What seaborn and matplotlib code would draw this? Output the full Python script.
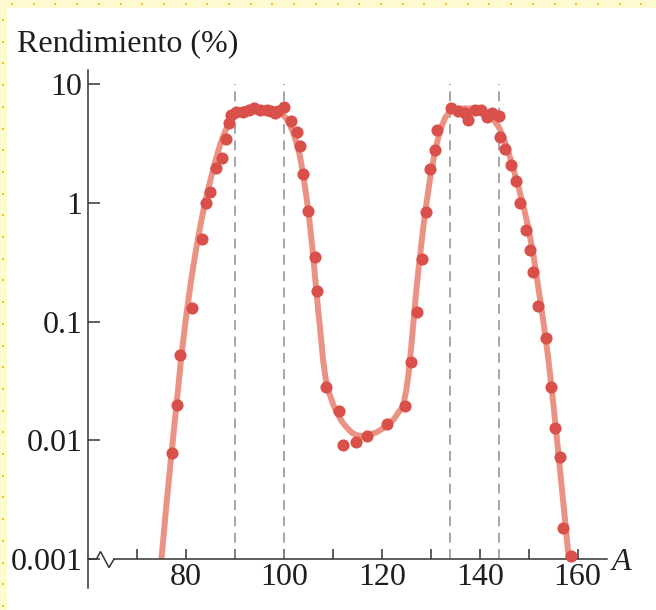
import numpy as np
import pandas as pd
import matplotlib
matplotlib.use("Agg")
import matplotlib.pyplot as plt
import matplotlib.ticker as mticker
from matplotlib.patches import Rectangle
from matplotlib.lines import Line2D
import seaborn as sns

# ---------------- data ----------------
point_A = [77.1, 78.2, 78.8, 81.2, 83.2, 84.2, 85.0, 86.1, 87.4, 88.2, 88.8, 89.3,
           90.2, 91.7, 92.8, 93.9, 95.1, 96.5, 97.4, 98.2, 98.8, 100.0,
           101.4, 102.6, 103.4, 103.9, 105.0, 106.3, 106.8, 108.6, 111.3, 112.1,
           114.8, 116.9, 121.1, 124.7, 125.9, 127.1, 128.2, 129.1, 129.8, 130.8,
           131.3, 134.2, 135.6, 136.9, 137.6, 139.0, 140.3, 141.4, 142.6, 143.9,
           144.2, 145.2, 146.3, 147.5, 148.2, 149.5, 150.2, 150.9, 152.0, 153.5,
           154.6, 155.4, 156.3, 157.1, 158.7]
point_yield = [0.0078, 0.020, 0.052, 0.13, 0.50, 1.0, 1.24, 1.95, 2.4, 3.45, 4.66, 5.5,
               5.85, 5.85, 6.0, 6.3, 6.1, 6.0, 5.9, 5.66, 5.9, 6.45,
               4.87, 3.96, 3.0, 1.75, 0.86, 0.35, 0.18, 0.028, 0.0176, 0.0092,
               0.0097, 0.0109, 0.0136, 0.0195, 0.046, 0.12, 0.336, 0.83, 1.92, 2.78,
               4.1, 6.3, 5.96, 5.74, 4.98, 6.1, 6.0, 5.25, 5.66, 5.37,
               3.6, 2.82, 2.1, 1.53, 1.0, 0.59, 0.40, 0.26, 0.135, 0.072,
               0.028, 0.0128, 0.0072, 0.00184, 0.00106]

curve_A = [75.0, 76.0, 77.0, 78.0, 79.0, 80.0, 81.0, 82.0, 83.0, 84.0, 85.0, 86.0,
           87.0, 88.0, 89.0, 90.0, 91.0, 93.0, 95.0, 97.0, 99.0, 100.0, 101.0,
           102.0, 103.0, 104.0, 105.0, 105.5, 106.0, 106.5, 107.0, 107.5, 108.0,
           108.5, 109.0, 109.5, 110.0, 110.5, 111.0, 112.0, 113.0, 114.0, 115.0,
           116.0, 117.0, 119.0, 121.0, 122.5, 123.5, 124.0, 124.5, 125.0, 125.5,
           126.0, 126.5, 127.0, 127.5, 128.0, 128.5, 129.0, 130.0, 131.0, 132.0,
           133.0, 134.0, 135.5, 137.0, 139.0, 141.0, 142.5, 144.0, 145.0, 146.0,
           147.0, 148.0, 149.0, 150.0, 151.0, 152.0, 153.0, 154.0, 155.0, 156.0,
           157.0, 158.2]
curve_yield = [0.00100, 0.00282, 0.00741, 0.0186, 0.0479, 0.107, 0.214, 0.389, 0.661, 1.05,
               1.55, 2.24, 3.09, 3.98, 4.90, 5.62, 6.03, 6.24, 6.17, 6.03, 5.75,
               5.43, 4.79, 3.80, 2.82, 1.70, 0.851, 0.562, 0.355, 0.209, 0.126,
               0.0794, 0.0479, 0.0339, 0.0269, 0.0234, 0.0204, 0.0182, 0.0166,
               0.0141, 0.0126, 0.0115, 0.0110, 0.0108, 0.0110, 0.0117, 0.0132,
               0.0151, 0.0174, 0.0182, 0.0209, 0.0263, 0.0372, 0.0603, 0.102, 0.174,
               0.275, 0.417, 0.631, 0.912, 1.74, 2.88, 4.17, 5.25, 5.89, 6.17,
               6.24, 6.2, 5.9, 5.25, 4.27, 3.39, 2.57, 1.86, 1.32, 0.91, 0.60,
               0.355, 0.19, 0.10, 0.049, 0.021, 0.0083, 0.0032, 0.00100]

dashed_A = [90, 100, 134, 144]
x_ticks = [70, 80, 90, 100, 110, 120, 130, 140, 150, 160]
x_ticklabels = ["", "80", "", "100", "", "120", "", "140", "", "160"]
y_ticks = [0.001, 0.01, 0.1, 1, 10]
y_ticklabels = ["0.001", "0.01", "0.1", "1", "10"]

# ---------------- style ----------------
sns.set_style("ticks")
plt.rcParams["font.family"] = ["Liberation Serif", "DejaVu Serif"]

W, H = 656, 610
fig = plt.figure(figsize=(W / 100, H / 100), dpi=100)
fig.patch.set_facecolor("white")

# yellow dotted frame strips
fig.patches.append(Rectangle((0, 1 - 8 / H), 1, 8 / H, transform=fig.transFigure,
                             facecolor="#FFFBD0", edgecolor="none", zorder=0))
fig.patches.append(Rectangle((0, 0), 7 / W, 1, transform=fig.transFigure,
                             facecolor="#FFFBD0", edgecolor="none", zorder=0))
dot_x = np.arange(12, W, 21.7)
fig.lines.append(Line2D(dot_x / W, np.full(len(dot_x), 1 - 4 / H), transform=fig.transFigure,
                        linestyle="none", marker="s", markersize=1.6, color="#F2C21B",
                        markeredgewidth=0))
dot_y = np.arange(20, H, 21.7)
fig.lines.append(Line2D(np.full(len(dot_y), 2.5 / W), 1 - dot_y / H, transform=fig.transFigure,
                        linestyle="none", marker="s", markersize=1.6, color="#F2C21B",
                        markeredgewidth=0))

ax_left, ax_right, ax_top, ax_bottom = 88, 607, 70, 588
ax = fig.add_axes([ax_left / W, 1 - ax_bottom / H, (ax_right - ax_left) / W,
                   (ax_bottom - ax_top) / H])
ax.set_facecolor("white")
ax.set_yscale("log")

curve_df = pd.DataFrame({"A": curve_A, "Rendimiento": curve_yield})
pts_df = pd.DataFrame({"A": point_A, "Rendimiento": point_yield})

ax.vlines(dashed_A, 0.001, 10, colors="#8e8e8e", linewidth=1.1,
          linestyles=[(0, (6.5, 4.2))], zorder=1)
sns.lineplot(data=curve_df, x="A", y="Rendimiento", ax=ax, color="#EC9284",
             linewidth=4.3, sort=False, zorder=2, solid_capstyle="butt",
             solid_joinstyle="round")
sns.scatterplot(data=pts_df, x="A", y="Rendimiento", ax=ax, color="#D94F49",
                s=76, linewidth=0, zorder=3)

ax.set_xlim(60, 166)
ax.set_ylim(10 ** -3.244, 10 ** 1.118)

ax.xaxis.set_major_locator(mticker.FixedLocator(x_ticks))
ax.xaxis.set_major_formatter(mticker.FixedFormatter(x_ticklabels))
ax.yaxis.set_major_locator(mticker.FixedLocator(y_ticks))
ax.yaxis.set_major_formatter(mticker.FixedFormatter(y_ticklabels))
ax.xaxis.set_minor_locator(mticker.NullLocator())
ax.yaxis.set_minor_locator(mticker.NullLocator())

spine_col = "#333333"
for s in ["top", "right"]:
    ax.spines[s].set_visible(False)
ax.spines["left"].set_color(spine_col)
ax.spines["left"].set_linewidth(1.1)
ax.spines["bottom"].set_color(spine_col)
ax.spines["bottom"].set_linewidth(1.1)
ax.spines["bottom"].set_position(("data", 0.001))
ax.spines["bottom"].set_bounds(65.3, 166)

ax.tick_params(axis="x", direction="in", length=7.5, width=1.1, color=spine_col,
               labelsize=23, pad=3, labelcolor="#1e1e1e")
ax.tick_params(axis="y", direction="in", length=8.5, width=1.1, color=spine_col,
               labelsize=23, pad=4, labelcolor="#1e1e1e")
ax.set_xlabel("")
ax.set_ylabel("")

# axis-break zigzag at the left end of the x axis (pixel offsets from origin)
fig.canvas.draw()
ox, oy = ax.transData.transform((60, 0.001))
zx = np.array([0, 8.5, 12.5, 21.0, 26.0]) + ox
zy = np.array([0, 0, 7.5, -8.5, 0]) + oy
fig.lines.append(Line2D(zx, zy, transform=None, color=spine_col, linewidth=1.1,
                        solid_joinstyle="miter"))

fig.text(17 / W, 1 - 52 / H, "Rendimiento (%)", fontsize=23, color="#1e1e1e",
         va="baseline", ha="left")
fig.text(612 / W, 1 - 570 / H, "A", fontsize=23, style="italic", color="#1e1e1e",
         va="baseline", ha="left")

fig.savefig("out.png", dpi=100, facecolor="white")
